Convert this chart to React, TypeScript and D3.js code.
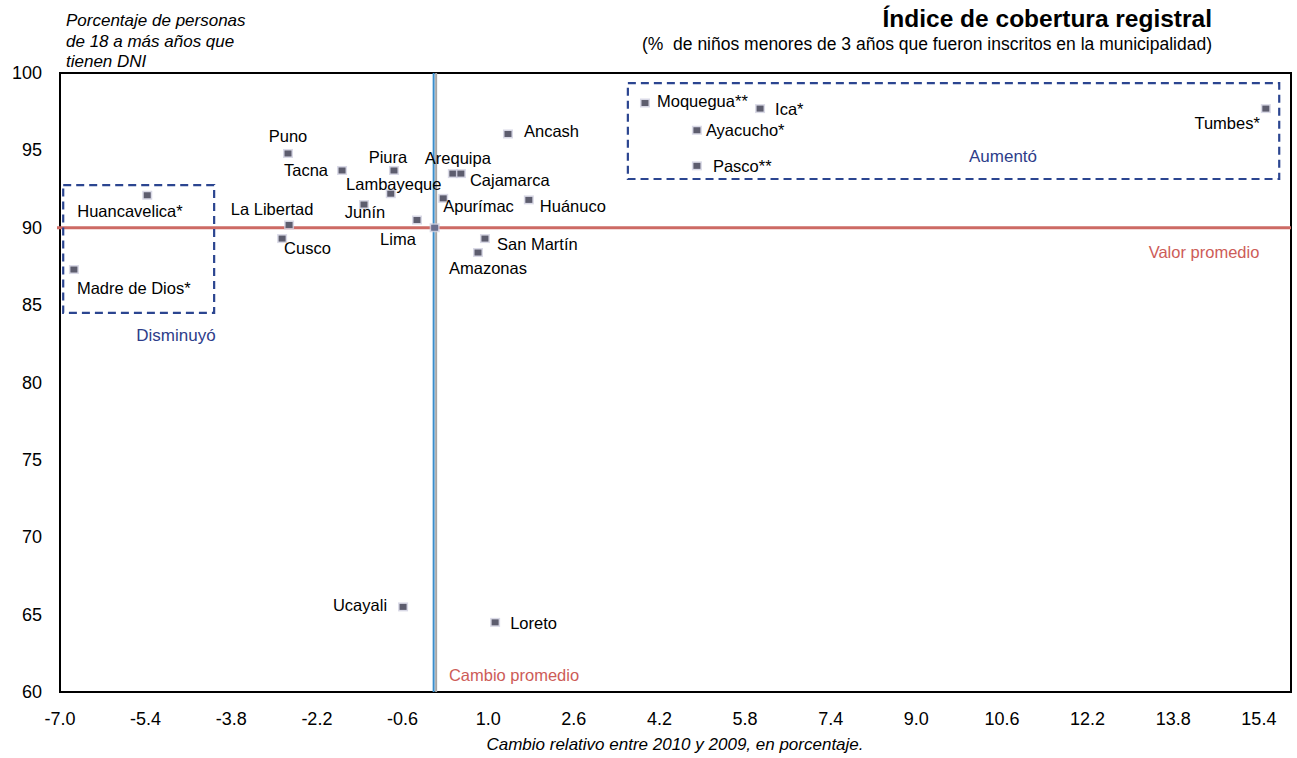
import * as d3 from "d3";

// Regiones: cambio relativo 2010/2009 (x) vs % personas 18+ con DNI (y)
const regions = [
  "Huancavelica*", "Madre de Dios*", "Puno", "Tacna", "Piura", "Lambayeque",
  "Junín", "Lima", "La Libertad", "Cusco", "Arequipa", "Cajamarca", "Apurímac",
  "Ancash", "Huánuco", "San Martín", "Amazonas", "Ucayali", "Loreto",
  "Moquegua**", "Ica*", "Ayacucho*", "Pasco**", "Tumbes*",
];
const changeValues = [
  -5.37, -6.74, -2.74, -1.73, -0.76, -0.82,
  -1.32, -0.33, -2.72, -2.85, 0.34, 0.49, 0.16,
  1.37, 1.76, 0.94, 0.81, -0.59, 1.13,
  3.93, 6.08, 4.9, 4.9, 15.53,
];
const dniValues = [
  92.1, 87.3, 94.8, 93.7, 93.7, 92.2,
  91.5, 90.5, 90.18, 89.3, 93.5, 93.5, 91.9,
  96.06, 91.8, 89.3, 88.4, 65.5, 64.5,
  98.06, 97.7, 96.3, 94.0, 97.7,
];

const avgChange = 0;
const avgValue = 90;

const xTicks = [-7.0, -5.4, -3.8, -2.2, -0.6, 1.0, 2.6, 4.2, 5.8, 7.4, 9.0, 10.6, 12.2, 13.8, 15.4];
const yTicks = [60, 65, 70, 75, 80, 85, 90, 95, 100];

// label placement: [anchor, dx, dy]
const labelPlacement: [string, number, number][] = [
  ["start", -70, 22], ["start", 3, 24], ["middle", 0, -11], ["end", -14, 6],
  ["middle", -6, -7], ["middle", 3, -4], ["middle", 1, 13], ["middle", -19, 25],
  ["middle", -17, -10], ["start", 2, 15], ["middle", 5, -10], ["start", 9, 12],
  ["start", 0, 14], ["start", 16, 3], ["start", 11, 12], ["start", 12, 11],
  ["middle", 10, 21], ["end", -16, 4], ["start", 15, 7], ["start", 12, 4],
  ["start", 15, 6], ["start", 9, 6], ["start", 16, 6], ["end", -6, 20],
];

// dashed group boxes [x0, x1, y0, y1] in data units
const decreasedBox = [-6.94, -4.12, 84.5, 92.76];
const increasedBox = [3.61, 15.78, 93.15, 99.35];

const W = 1297;
const H = 758;
const left = 60;
const right = 1291;
const top = 73;
const bottom = 692;
const FONT = "'Liberation Sans', Arial, sans-serif";

export default function App() {
  const x = d3.scaleLinear().domain([-7, 16]).range([left, right]);
  const y = d3.scaleLinear().domain([60, 100]).range([bottom, top]);

  const box = (b: number[]) => (
    <rect
      x={x(b[0])}
      y={y(b[3])}
      width={x(b[1]) - x(b[0])}
      height={y(b[2]) - y(b[3])}
      fill="none"
      stroke="#2B4590"
      strokeWidth={2.2}
      strokeDasharray="8,5"
    />
  );

  const marker = (cx: number, cy: number, key: string, tint = "#5d5d6e") => (
    <g key={key}>
      <rect x={cx - 5} y={cy - 4.5} width={10} height={9} fill="#cfcfe0" opacity={0.8} />
      <rect x={cx - 3.5} y={cy - 3} width={7} height={6} fill={tint} />
    </g>
  );

  return (
    <svg
      width={W}
      height={H}
      style={{ position: "absolute", left: 0, top: 0, background: "#fff" }}
      fontFamily={FONT}
    >
      {/* titles */}
      <text x={1212} y={27} textAnchor="end" fontSize={24.5} fontWeight="bold">
        Índice de cobertura registral
      </text>
      <text x={1212} y={50} textAnchor="end" fontSize={17.5}>
        {"(%\u00a0 de niños menores de 3 años que fueron inscritos en la municipalidad)"}
      </text>
      <text fontSize={17} fontStyle="italic">
        <tspan x={66} y={26}>Porcentaje de personas</tspan>
        <tspan x={66} y={47}>de 18 a más años que</tspan>
        <tspan x={66} y={67}>tienen DNI</tspan>
      </text>

      {/* plot frame */}
      <rect x={left} y={top} width={right - left} height={bottom - top} fill="none" stroke="#000" strokeWidth={2} />

      {/* average lines */}
      <line x1={left - 3} x2={right} y1={y(avgValue)} y2={y(avgValue)} stroke="#CD6A64" strokeWidth={3} />
      <line x1={x(avgChange) + 1.5} x2={x(avgChange) + 1.5} y1={top} y2={bottom} stroke="#A6A6A6" strokeWidth={2} />
      <line x1={x(avgChange) - 1} x2={x(avgChange) - 1} y1={top} y2={bottom} stroke="#3A8DCB" strokeWidth={2} />

      {box(decreasedBox)}
      {box(increasedBox)}

      {/* y ticks */}
      {yTicks.map((t) => (
        <text key={t} x={42} y={y(t) + 6} textAnchor="end" fontSize={18}>
          {t}
        </text>
      ))}
      {/* x ticks */}
      {xTicks.map((t) => (
        <text key={t} x={x(t)} y={725} textAnchor="middle" fontSize={18}>
          {t.toFixed(1)}
        </text>
      ))}
      <text x={675} y={750} textAnchor="middle" fontSize={17} fontStyle="italic">
        Cambio relativo entre 2010 y 2009, en porcentaje.
      </text>

      {/* annotations */}
      <text x={176} y={341} textAnchor="middle" fontSize={17} fill="#2E3D8A">Disminuyó</text>
      <text x={1003} y={162} textAnchor="middle" fontSize={17} fill="#2E3D8A">Aumentó</text>
      <text x={1204} y={258} textAnchor="middle" fontSize={16.5} fill="#CD5C58">Valor promedio</text>
      <text x={514} y={681} textAnchor="middle" fontSize={16.5} fill="#CD5C58">Cambio promedio</text>

      {/* points */}
      {marker(x(avgChange), y(avgValue), "avg", "#6a6f8e")}
      {regions.map((r, i) => marker(x(changeValues[i]), y(dniValues[i]), r))}
      {regions.map((r, i) => {
        const [anchor, dx, dy] = labelPlacement[i];
        return (
          <text
            key={"l" + r}
            x={x(changeValues[i]) + dx}
            y={y(dniValues[i]) + dy}
            textAnchor={anchor}
            fontSize={16.5}
          >
            {r}
          </text>
        );
      })}
    </svg>
  );
}
